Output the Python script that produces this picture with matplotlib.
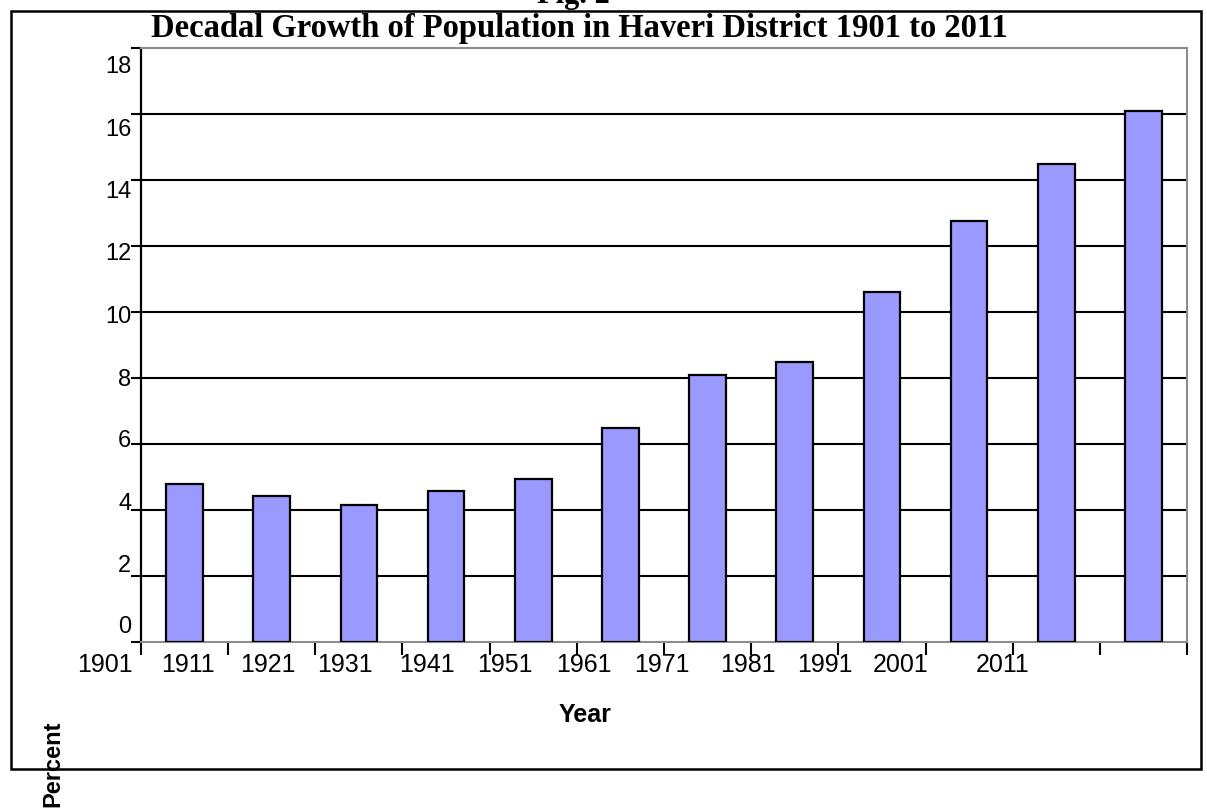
import matplotlib
matplotlib.use("Agg")
import matplotlib.pyplot as plt
from matplotlib.patches import Rectangle
import numpy as np

# ---- data ----
categories = list(range(12))
values = [4.8, 4.42, 4.15, 4.58, 4.95, 6.5, 8.1, 8.5, 10.6, 12.75, 14.5, 16.1]
x_tick_labels = ["1901", "1911", "1921", "1931", "1941", "1951", "1961",
                 "1971", "1981", "1991", "2001", "2011"]
# label positions as they appear (misaligned) on the original chart, in category units
x_label_pos = [-0.91, 0.04, 0.95, 1.84, 2.78, 3.68, 4.58, 5.48, 6.46, 7.34, 8.21, 9.39]
y_ticks = [0, 2, 4, 6, 8, 10, 12, 14, 16, 18]
y_tick_labels = ["0", "2", "4", "6", "8", "10", "12", "14", "16", "18"]
y_label_pos = [0.55, 2.42, 4.30, 6.21, 8.06, 9.94, 11.85, 13.73, 15.61, 17.52]

title = "Decadal Growth of Population in Haveri District 1901 to 2011"

W, H = 1207, 812
fig = plt.figure(figsize=(W / 100, H / 100), dpi=100)
fig.patch.set_facecolor("white")

L, R, T, B = 141, 1187, 49, 643
ax = fig.add_axes([L / W, 1 - B / H, (R - L) / W, (B - T) / H])

x = np.arange(len(categories))
ax.bar(x, values, width=0.42, color="#9999FF", edgecolor="black",
       linewidth=1.6, zorder=3)

# gridlines
for yv in y_ticks[1:-1]:
    ax.axhline(yv, color="black", linewidth=1.5, zorder=1)

# spines
for s in ["top", "right", "bottom"]:
    ax.spines[s].set_color("#8c8c8c")
    ax.spines[s].set_linewidth(1.5)
ax.spines["left"].set_color("black")
ax.spines["left"].set_linewidth(1.6)

# x ticks: marks at category boundaries
ax.set_xticks(np.arange(-0.5, len(categories), 1.0))
ax.set_xticklabels([])
ax.tick_params(axis="x", which="major", direction="out", length=9,
               width=1.5, color="black")

ax.set_yticks(y_ticks)
ax.set_yticklabels([])
ax.tick_params(axis="y", which="major", direction="out", length=7,
               width=1.5, color="black")
ax.set_yticks(y_label_pos, minor=True)
ax.set_yticklabels(y_tick_labels, minor=True, fontsize=17,
                   fontfamily="Liberation Sans")
ax.tick_params(axis="y", which="minor", length=0, pad=7)

# limits after ticks (ticks would otherwise widen the view)
ax.set_xlim(-0.5, len(categories) - 0.5)
ax.set_ylim(0, 18)

# x labels at their own (offset) positions, as on the original
xtr = ax.get_xaxis_transform()
for pos, lab in zip(x_label_pos, x_tick_labels):
    ax.text(pos, -0.017, lab, transform=xtr, ha="center", va="top",
            fontsize=18, fontfamily="Liberation Sans", clip_on=False)

ax.set_xlabel("Year", fontsize=18, fontweight="bold",
              fontfamily="Liberation Sans")
ax.xaxis.set_label_coords(0.4245, -0.101)
ax.set_ylabel("Percent", fontsize=17, fontweight="bold",
              fontfamily="Liberation Sans")
ax.yaxis.set_label_coords(-0.0736, -0.2037)
ax.yaxis.label.set_zorder(10)

# title
fig.text(579 / W, 1 - 29 / H, title, ha="center", va="center",
         fontsize=23.5, fontweight="bold", fontfamily="Liberation Serif")
# partially cut "Fig. 2" heading at the very top
fig.text(573 / W, 1 - 3 / H, "Fig. 2", ha="center", va="baseline",
         fontsize=22, fontweight="bold", fontfamily="Liberation Serif")

# outer frame
fig.add_artist(Rectangle((11 / W, 1 - 770 / H), (1201 - 11) / W,
                         (770 - 12) / H, transform=fig.transFigure,
                         fill=False, edgecolor="black", linewidth=1.8,
                         zorder=0))

fig.savefig("out.png", dpi=100, facecolor="white")
